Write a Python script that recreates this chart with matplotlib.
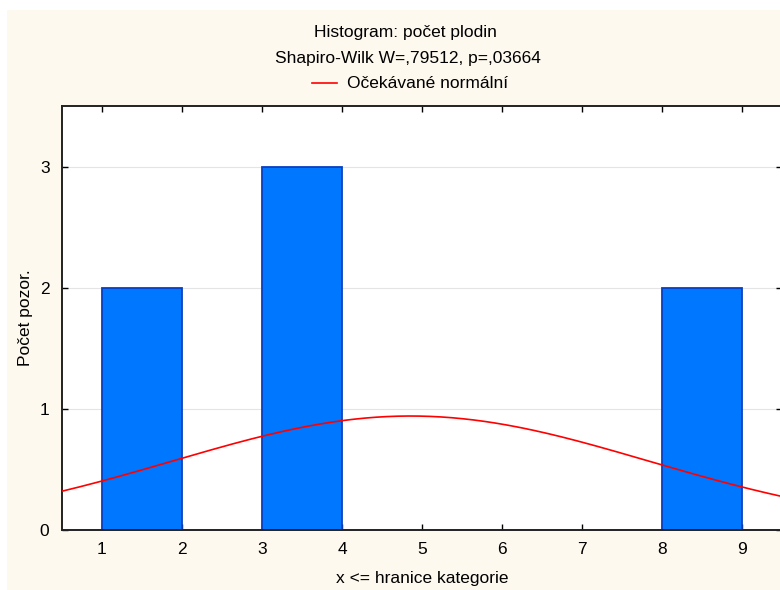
import numpy as np
import matplotlib
matplotlib.use("Agg")
import matplotlib.pyplot as plt
from matplotlib.patches import Rectangle

plt.rcParams["font.family"] = ["Liberation Sans Narrow", "Liberation Sans", "DejaVu Sans"]

# histogram categories (upper bound x <= edge), counts per category
bin_left = [1, 3, 8]
bin_width = 1
counts = [2, 3, 2]

# fitted normal (from the 7 observations)
n_obs = 7
obs_mean = 4.857
obs_sd = 2.968

x_ticks = [1, 2, 3, 4, 5, 6, 7, 8, 9]
y_ticks = [0, 1, 2, 3]

BAR_FACE = "#0077ff"
BAR_EDGE = "#0a3fbf"
BG = "#fdf9ef"
FS = 12.5

fig = plt.figure(figsize=(7.8, 5.9), dpi=100, facecolor="white")
fig.patches.append(Rectangle((7 / 780, 0), 1, 1 - 10 / 590, transform=fig.transFigure,
                             facecolor=BG, edgecolor="none", zorder=-10))

ax = fig.add_axes([62 / 780, 1 - 530 / 590, 720 / 780, 424 / 590])
ax.set_facecolor("white")

ax.bar(bin_left, counts, width=bin_width, align="edge", color=BAR_FACE,
       edgecolor=BAR_EDGE, linewidth=1.3, zorder=2)

xs = np.linspace(0.5, 9.5, 400)
ys = n_obs * bin_width * np.exp(-0.5 * ((xs - obs_mean) / obs_sd) ** 2) / (obs_sd * np.sqrt(2 * np.pi))
ax.plot(xs, ys, color="#ff0000", linewidth=1.2, zorder=3)

ax.set_xlim(0.5, 9.5)
ax.set_ylim(0, 3.5)
ax.set_xticks(x_ticks)
ax.set_yticks(y_ticks)
ax.yaxis.grid(True, color="#e4e4e4", linewidth=0.8, zorder=0)
ax.set_axisbelow(True)
ax.tick_params(direction="in", length=4, width=1, labelsize=FS, colors="black",
               top=True, right=True)
ax.tick_params(axis="x", pad=9)
ax.tick_params(axis="y", pad=9)
for s in ax.spines.values():
    s.set_linewidth(1.4)
    s.set_color("#222222")

ax.set_xlabel("x <= hranice kategorie", fontsize=FS, labelpad=10)
ax.set_ylabel("Počet pozor.", fontsize=FS)
ax.yaxis.set_label_coords(-(62 - 33) / 720, 0.5)

fig.text(405 / 780, 1 - 32 / 590, "Histogram: počet plodin", ha="center", va="center", fontsize=FS)
fig.text(408 / 780, 1 - 58 / 590, "Shapiro-Wilk W=,79512, p=,03664", ha="center", va="center", fontsize=FS)
fig.lines.append(plt.Line2D([312 / 780, 337 / 780], [1 - 83 / 590, 1 - 83 / 590],
                            transform=fig.transFigure, color="#ff0000", linewidth=1.2))
fig.text(347 / 780, 1 - 83 / 590, "Očekávané normální", ha="left", va="center", fontsize=FS)

fig.savefig("out.png", dpi=100, facecolor=fig.get_facecolor())
